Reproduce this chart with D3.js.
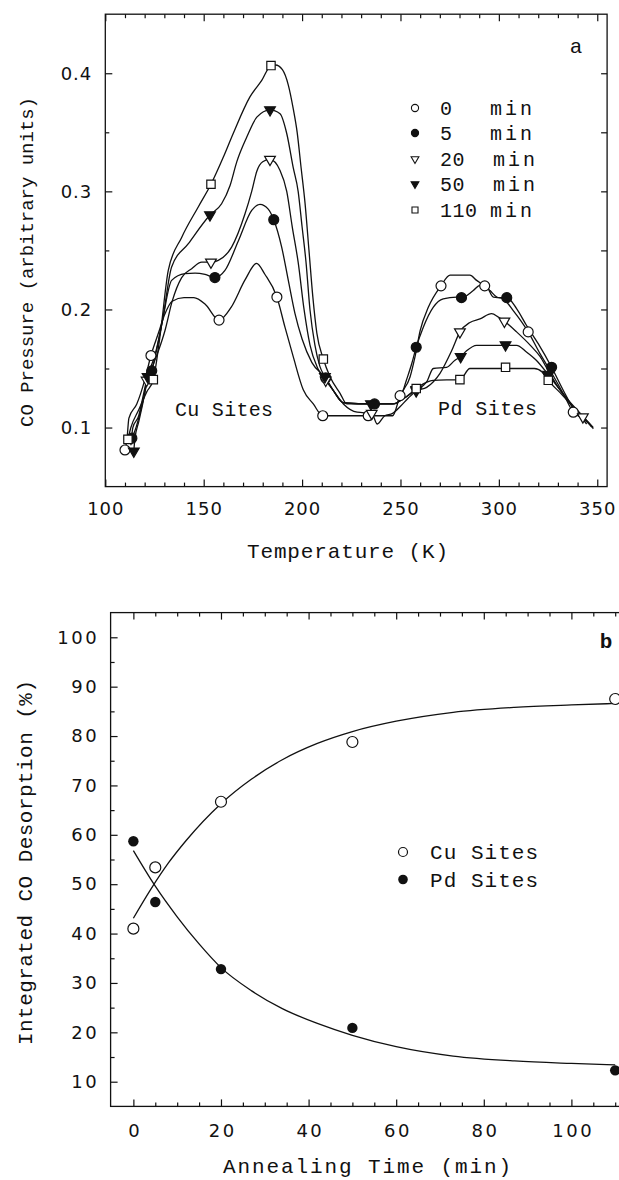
<!DOCTYPE html>
<html>
<head>
<meta charset="utf-8">
<script src="https://cdn.jsdelivr.net/npm/d3@7"></script>
<style>
body { margin: 0; background: #fff; }
text { fill: #111; }
</style>
</head>
<body>
<div id="chart"></div>
<script>
// ---- panel a : CO TPD traces (temperature K, pressure a.u.) ----
const curve0 = [[110,0.081],[111,0.09],[112,0.108],[116,0.12],[120,0.14],[123.2,0.161],[127,0.18],[130,0.195],[134,0.207],[140,0.21],[145,0.21],[151,0.204],[157.8,0.191],[164,0.202],[171,0.225],[176.9,0.239],[181,0.23],[187.2,0.2105],[191.3,0.185],[195.5,0.16],[200.6,0.132],[205.7,0.12],[210.5,0.11],[233.6,0.11],[246,0.11],[249.8,0.127],[254.9,0.143],[257.4,0.16],[260,0.182],[264.2,0.202],[270.6,0.22],[275.2,0.229],[285.3,0.229],[288.7,0.2246],[292.8,0.22],[295.5,0.216],[298.9,0.2105],[302.2,0.209],[307.3,0.199],[314.9,0.181],[320.9,0.1626],[326,0.1485],[332.7,0.1288],[337.8,0.113],[342.9,0.1076],[347.2,0.1005]];
const curve5 = [[113.5,0.091],[115,0.097],[117,0.108],[119.5,0.125],[121.5,0.14],[123.6,0.148],[126,0.165],[129,0.19],[133.7,0.2246],[140.5,0.2303],[145.6,0.2308],[150.7,0.2297],[155.7,0.227],[160.8,0.233],[167.6,0.258],[174.4,0.2838],[178.6,0.289],[182.8,0.285],[185.6,0.276],[189.6,0.253],[193,0.2246],[196.4,0.1965],[200,0.175],[205,0.155],[212,0.142],[216,0.131],[221,0.121],[236.8,0.12],[247,0.12],[250,0.125],[253,0.14],[255.7,0.154],[258,0.168],[261.6,0.185],[266.7,0.202],[271.7,0.209],[278.5,0.2105],[281,0.21],[287,0.216],[290.4,0.2204],[293.8,0.219],[297.2,0.2105],[301.4,0.21],[304,0.21],[309,0.2007],[314,0.1866],[320,0.171],[326.8,0.151],[332.7,0.1316],[337.8,0.116],[342.9,0.106]];
const curve20 = [[113,0.085],[114,0.1],[117,0.11],[119,0.125],[121,0.14],[124,0.152],[127,0.165],[130.3,0.182],[134,0.207],[138.8,0.227],[143.9,0.2345],[149,0.24],[153.7,0.24],[157.4,0.2415],[164.2,0.2528],[171,0.281],[174.4,0.3],[177,0.317],[180,0.325],[183.7,0.327],[188.8,0.3177],[192.2,0.3],[195,0.27],[198,0.24],[201,0.2],[204,0.17],[208,0.15],[212,0.14],[216,0.131],[221,0.12],[228,0.113],[235.4,0.112],[238.2,0.103],[242,0.11],[246,0.112],[250,0.118],[254,0.125],[258,0.131],[263.3,0.134],[270,0.1457],[276,0.165],[280.2,0.181],[285.3,0.189],[290.4,0.192],[296.3,0.1964],[299.7,0.1936],[302.8,0.19],[309,0.181],[316,0.1696],[321,0.16],[325.1,0.148],[331,0.132],[337.8,0.1174],[344.6,0.103]];
const curve50 = [[114.5,0.08],[115,0.09],[117,0.105],[119,0.12],[121.5,0.143],[125,0.16],[129,0.19],[133.7,0.236],[142.2,0.2557],[153.2,0.28],[159.1,0.2895],[163.4,0.305],[166.8,0.325],[171.9,0.346],[177,0.3628],[183.7,0.369],[188.8,0.3657],[192.2,0.349],[195.5,0.32],[198,0.3],[200,0.27],[202,0.24],[204,0.2],[206.5,0.17],[209,0.152],[211.6,0.143],[216,0.131],[221,0.121],[235.4,0.12],[246,0.12],[252,0.125],[258,0.132],[263.3,0.1386],[266.7,0.15],[273.4,0.151],[277.7,0.157],[280.6,0.16],[283.6,0.165],[288.7,0.1696],[309,0.1696],[314,0.164],[319,0.157],[325,0.145],[332,0.13],[338,0.118],[343,0.109],[348,0.099]];
const curve110 = [[111.5,0.09],[113,0.1],[117,0.115],[121,0.13],[124.4,0.1406],[128,0.18],[132,0.233],[138.8,0.261],[147.3,0.287],[153.7,0.306],[160,0.329],[165,0.349],[173.5,0.38],[179.5,0.394],[184.2,0.4065],[186.5,0.407],[190,0.403],[193,0.39],[195.5,0.37],[197.5,0.35],[199.5,0.32],[201.5,0.29],[203.5,0.25],[205.5,0.21],[207.5,0.18],[210.8,0.158],[214.2,0.143],[219.3,0.129],[222.7,0.12],[246,0.12],[252,0.125],[258,0.133],[261.6,0.137],[266.7,0.14],[280.2,0.1406],[285.3,0.15],[318,0.15],[322,0.147],[325.1,0.14],[332,0.128],[338,0.117],[344,0.107],[348,0.1]];

const marks0 = [[110,0.081],[123.2,0.161],[157.8,0.191],[187.2,0.2105],[210.5,0.11],[233.6,0.11],[249.8,0.127],[270.6,0.22],[292.8,0.22],[314.9,0.181],[337.8,0.113]];
const marks5 = [[113.5,0.091],[123.6,0.148],[155.7,0.227],[185.6,0.276],[212,0.142],[236.8,0.12],[258,0.168],[281,0.21],[304,0.21],[326.8,0.151]];
const marks20 = [[121,0.14],[153.7,0.24],[183.7,0.327],[212,0.14],[235.4,0.112],[258,0.131],[280.2,0.181],[302.8,0.19],[325,0.145],[342.7,0.109]];
const marks50 = [[114.5,0.08],[121.5,0.143],[153.2,0.28],[183.7,0.369],[211.6,0.143],[235,0.12],[258,0.132],[280.6,0.16],[303.4,0.17],[325,0.144]];
const marks110 = [[111.5,0.09],[124.4,0.1406],[153.7,0.306],[184.2,0.4065],[210.8,0.158],[258,0.133],[280.2,0.1406],[303.4,0.151],[325.1,0.14]];

const seriesNames = ['0', '5', '20', '50', '110'];
const tempTicks = [100, 150, 200, 250, 300, 350];
const presTicks = [0.1, 0.2, 0.3, 0.4];

// ---- panel b : integrated desorption vs annealing time ----
const times = [0, 5, 20, 50, 110];
const cuSites = [41, 53.4, 66.7, 78.8, 87.5];
const pdSites = [58.7, 46.4, 32.8, 20.9, 12.3];
const cuFit = [[0,43.1],[4,49],[8,54.3],[12,58.8],[20,66.3],[27,71.3],[34,75.2],[42,78.5],[50,80.9],[60,83],[73,84.8],[87,85.8],[100,86.3],[110,86.6]];
const pdFit = [[0,56.8],[5,49.6],[10,43.4],[15,37.9],[20,33.1],[27,28.4],[34,24.8],[42,21.8],[50,19.4],[60,17.1],[73,15.2],[87,14.2],[100,13.7],[110,13.4]];
const timeTicks = [0, 20, 40, 60, 80, 100];
const pctTicks = [10, 20, 30, 40, 50, 60, 70, 80, 90, 100];

const svg = d3.select('#chart').append('svg')
    .attr('width', 619)
    .attr('height', 1180);

const labelFont = "'DejaVu Sans', sans-serif";
const monoFont = "'Liberation Mono', 'DejaVu Sans Mono', monospace";

function addAxis(axis, transform) {
    const g = svg.append('g').attr('transform', transform).call(axis);
    g.select('.domain').remove();
    g.selectAll('line').attr('stroke', '#111').attr('stroke-width', 1.2);
    return g;
}

function styleLabels(g, ls) {
    g.selectAll('text')
        .attr('font-family', labelFont)
        .attr('font-size', 18)
        .attr('letter-spacing', ls)
        .attr('fill', '#222');
}

function minorOf(step, lo, hi, majors) {
    return d3.range(lo, hi + 1e-9, step).filter(v => !majors.some(m => Math.abs(m - v) < 1e-9));
}

// ================= panel a =================
const xA = d3.scaleLinear().domain([100, 355]).range([105.3, 607.1]);
const yA = d3.scaleLinear().domain([0.05, 0.45]).range([486.6, 14.2]);

let ax = addAxis(d3.axisBottom(xA).tickValues(tempTicks).tickSize(-7).tickPadding(15.5).tickFormat(d3.format('d')), `translate(0,${yA(0.05)})`);
styleLabels(ax, 1);
addAxis(d3.axisBottom(xA).tickValues(minorOf(10, 110, 350, tempTicks)).tickSize(-4).tickFormat(''), `translate(0,${yA(0.05)})`);
addAxis(d3.axisTop(xA).tickValues(tempTicks).tickSize(-7).tickFormat(''), `translate(0,${yA(0.45)})`);
addAxis(d3.axisTop(xA).tickValues(minorOf(10, 110, 350, tempTicks)).tickSize(-4).tickFormat(''), `translate(0,${yA(0.45)})`);

ax = addAxis(d3.axisLeft(yA).tickValues(presTicks).tickSize(-7).tickPadding(13).tickFormat(d3.format('.1f')), `translate(${xA(100)},0)`);
styleLabels(ax, 1);
addAxis(d3.axisLeft(yA).tickValues([0.15, 0.25, 0.35]).tickSize(-4).tickFormat(''), `translate(${xA(100)},0)`);
addAxis(d3.axisRight(yA).tickValues([0.1, 0.15, 0.2, 0.25, 0.3, 0.35, 0.4]).tickSize(-6).tickFormat(''), `translate(${xA(355)},0)`);

svg.append('rect')
    .attr('x', xA(100)).attr('y', yA(0.45))
    .attr('width', xA(355) - xA(100)).attr('height', yA(0.05) - yA(0.45))
    .attr('fill', 'none').attr('stroke', '#111').attr('stroke-width', 1.3);

const lineA = d3.line()
    .x(d => xA(d[0]))
    .y(d => yA(d[1]))
    .curve(d3.curveMonotoneX);

const curvesA = [curve0, curve5, curve20, curve50, curve110];
const marksA = [marks0, marks5, marks20, marks50, marks110];

svg.append('g').selectAll('path')
    .data(curvesA)
    .enter().append('path')
    .attr('d', lineA)
    .attr('fill', 'none')
    .attr('stroke', '#111')
    .attr('stroke-width', 1.3);

// marker styles per series: circle open, circle filled, tri-down open, tri-down filled, square open
function markerPath(i, scale) {
    if (i <= 1) return d3.symbol(d3.symbolCircle, 78 * scale * scale)();
    if (i <= 3) return d3.symbol(d3.symbolTriangle, 50 * scale * scale)();
    return d3.symbol(d3.symbolSquare, 70 * scale * scale)();
}
const filled = [false, true, false, true, false];

marksA.forEach((pts, i) => {
    svg.append('g').selectAll('path')
        .data(pts)
        .enter().append('path')
        .attr('d', markerPath(i, 1))
        .attr('transform', d => `translate(${xA(d[0])},${yA(d[1])})` + (i == 2 || i == 3 ? ' rotate(180)' : ''))
        .attr('fill', filled[i] ? '#111' : '#fff')
        .attr('stroke', '#111')
        .attr('stroke-width', 1.2);
});

// legend a
const legA = svg.append('g');
const legRows = [108, 133, 159, 184, 210];
seriesNames.forEach((name, i) => {
    legA.append('path')
        .attr('d', markerPath(i, 0.72))
        .attr('transform', `translate(415,${legRows[i]})` + (i == 2 || i == 3 ? ' rotate(180)' : ''))
        .attr('fill', filled[i] ? '#111' : '#fff')
        .attr('stroke', '#111')
        .attr('stroke-width', 1.1);
    legA.append('text')
        .attr('x', 440).attr('y', legRows[i] + 7)
        .attr('font-family', monoFont).attr('font-size', 20).attr('letter-spacing', 0.5)
        .text(name);
    legA.append('text')
        .attr('x', name.length == 2 ? 493 : 490).attr('y', legRows[i] + 7)
        .attr('font-family', monoFont).attr('font-size', 20).attr('letter-spacing', 3)
        .text('min');
});

svg.append('text').attr('x', 576).attr('y', 53).attr('text-anchor', 'middle')
    .attr('font-family', monoFont).attr('font-size', 21).text('a');
svg.append('text').attr('x', 175).attr('y', 416)
    .attr('font-family', monoFont).attr('font-size', 20).attr('textLength', 98).text('Cu Sites');
svg.append('text').attr('x', 438).attr('y', 415)
    .attr('font-family', monoFont).attr('font-size', 20).attr('textLength', 99).text('Pd Sites');

svg.append('text')
    .attr('x', 347.5).attr('y', 558).attr('text-anchor', 'middle')
    .attr('font-family', monoFont).attr('font-size', 21)
    .attr('textLength', 201).attr('lengthAdjust', 'spacing')
    .text('Temperature (K)');
svg.append('text')
    .attr('transform', 'translate(33,262) rotate(-90)')
    .attr('text-anchor', 'middle')
    .attr('font-family', monoFont).attr('font-size', 19)
    .attr('textLength', 330).attr('lengthAdjust', 'spacing')
    .text('CO Pressure (arbitrary units)');

// ================= panel b =================
const xB = d3.scaleLinear().domain([-5.2, 115]).range([110.6, 637.1]);
const yB = d3.scaleLinear().domain([5, 105]).range([1106.4, 612.6]);

ax = addAxis(d3.axisBottom(xB).tickValues(timeTicks).tickSize(-7).tickPadding(17.5).tickFormat(d3.format('d')), `translate(0,${yB(5)})`);
styleLabels(ax, 2.5);
ax.selectAll('text').attr('dx', 1.25);
addAxis(d3.axisBottom(xB).tickValues(minorOf(5, 5, 115, timeTicks)).tickSize(-4).tickFormat(''), `translate(0,${yB(5)})`);
addAxis(d3.axisTop(xB).tickValues(timeTicks).tickSize(-7).tickFormat(''), `translate(0,${yB(105)})`);
addAxis(d3.axisTop(xB).tickValues(minorOf(5, 5, 115, timeTicks)).tickSize(-4).tickFormat(''), `translate(0,${yB(105)})`);

ax = addAxis(d3.axisLeft(yB).tickValues(pctTicks).tickSize(-7).tickPadding(11.5).tickFormat(d3.format('d')), `translate(${xB(-5.2)},0)`);
styleLabels(ax, 2.5);
addAxis(d3.axisLeft(yB).tickValues(minorOf(10, 15, 95, [])).tickSize(-4).tickFormat(''), `translate(${xB(-5.2)},0)`);

svg.append('rect')
    .attr('x', xB(-5.2)).attr('y', yB(105))
    .attr('width', xB(115) - xB(-5.2)).attr('height', yB(5) - yB(105))
    .attr('fill', 'none').attr('stroke', '#111').attr('stroke-width', 1.3);

const lineB = d3.line()
    .x(d => xB(d[0]))
    .y(d => yB(d[1]))
    .curve(d3.curveMonotoneX);

svg.append('g').selectAll('path')
    .data([cuFit, pdFit])
    .enter().append('path')
    .attr('d', lineB)
    .attr('fill', 'none')
    .attr('stroke', '#111')
    .attr('stroke-width', 1.3);

svg.append('g').selectAll('circle')
    .data(times.map((t, i) => [t, cuSites[i]]))
    .enter().append('circle')
    .attr('cx', d => xB(d[0])).attr('cy', d => yB(d[1])).attr('r', 5.5)
    .attr('fill', '#fff').attr('stroke', '#111').attr('stroke-width', 1.2);

svg.append('g').selectAll('circle')
    .data(times.map((t, i) => [t, pdSites[i]]))
    .enter().append('circle')
    .attr('cx', d => xB(d[0])).attr('cy', d => yB(d[1])).attr('r', 5.2)
    .attr('fill', '#111');

// legend b
svg.append('circle').attr('cx', 403).attr('cy', 852).attr('r', 4.5)
    .attr('fill', '#fff').attr('stroke', '#111').attr('stroke-width', 1.2);
svg.append('circle').attr('cx', 403).attr('cy', 879.5).attr('r', 4.8).attr('fill', '#111');
svg.append('text').attr('x', 430).attr('y', 858.5)
    .attr('font-family', monoFont).attr('font-size', 21).attr('textLength', 108).text('Cu Sites');
svg.append('text').attr('x', 430).attr('y', 886.5)
    .attr('font-family', monoFont).attr('font-size', 21).attr('textLength', 108).text('Pd Sites');

svg.append('text').attr('x', 606).attr('y', 648).attr('text-anchor', 'middle')
    .attr('font-family', monoFont).attr('font-size', 21).attr('font-weight', 'bold').text('b');

svg.append('text')
    .attr('x', 367).attr('y', 1173).attr('text-anchor', 'middle')
    .attr('font-family', monoFont).attr('font-size', 21)
    .attr('textLength', 288).attr('lengthAdjust', 'spacing')
    .text('Annealing Time (min)');
svg.append('text')
    .attr('transform', 'translate(32,862.5) rotate(-90)')
    .attr('text-anchor', 'middle')
    .attr('font-family', monoFont).attr('font-size', 21)
    .attr('textLength', 365).attr('lengthAdjust', 'spacing')
    .text('Integrated CO Desorption (%)');
</script>
</body>
</html>
